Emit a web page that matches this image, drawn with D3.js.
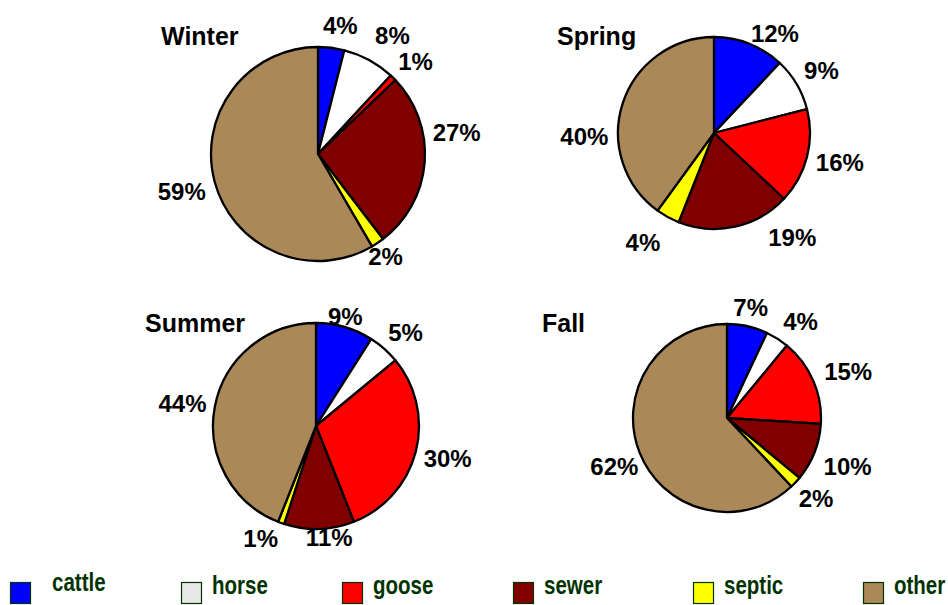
<!DOCTYPE html>
<html>
<head>
<meta charset="utf-8">
<script src="https://cdn.jsdelivr.net/npm/d3@7"></script>
<style>
  html, body { margin: 0; padding: 0; background: #fff; }
  svg { display: block; }
</style>
</head>
<body>
<svg id="chart" width="948" height="605"></svg>
<script>
// ---- Data ----
const categories = ["cattle", "horse", "goose", "sewer", "septic", "other"];
const seasons = ["Winter", "Spring", "Summer", "Fall"];
const winterValues = [4, 8, 1, 27, 2, 59];
const springValues = [12, 9, 16, 19, 4, 40];
const summerValues = [9, 5, 30, 11, 1, 44];
const fallValues   = [7, 4, 15, 10, 2, 62];

// ---- Styles / layout ----
const pieColors = ["#0000ff", "#ffffff", "#ff0000", "#800000", "#ffff00", "#ab8858"];
const legendColors = ["#0000ff", "#e8e8e8", "#ff0000", "#800000", "#ffff00", "#ab8858"];
const font = "'Liberation Sans', Arial, Helvetica, sans-serif";

const layouts = [
  { values: winterValues, cx: 318, cy: 154, r: 107, titleX: 161, titleY: 45,
    nudge: [[5,9],[8,4],[0,6],[0,-32],[-10,-13],[-2,1]] },
  { values: springValues, cx: 714, cy: 133, r: 96, titleX: 557, titleY: 45,
    nudge: [[15,16],[0,1],[5,-2],[51,-17],[-11,0],[-11,42]] },
  { values: summerValues, cx: 316, cy: 426, r: 103, titleX: 145, titleY: 332,
    nudge: [[-8,19],[1,7],[2,-1],[9,-22],[-10,-14],[-2,2]] },
  { values: fallValues, cx: 727, cy: 418, r: 94, titleX: 542, titleY: 332,
    nudge: [[-3,9],[8,7],[9,2],[7,3],[0,-3],[1,3]] }
];
const labelFactor = 1.3;

const svg = d3.select("#chart");
const color = d3.scaleOrdinal().domain(categories).range(pieColors);
const pie = d3.pie().sort(null).value(d => d.value);

layouts.forEach((L, si) => {
  const data = categories.map((c, i) => ({ cat: c, value: L.values[i], idx: i }));
  const arcs = pie(data);
  const arc = d3.arc().innerRadius(0).outerRadius(L.r);
  const g = svg.append("g").attr("transform", `translate(${L.cx},${L.cy})`);

  g.selectAll("path")
    .data(arcs)
    .join("path")
    .attr("d", arc)
    .attr("fill", d => color(d.data.cat))
    .attr("stroke", "#000")
    .attr("stroke-width", 2.3)
    .attr("stroke-linejoin", "round");

  const R = L.r * labelFactor;
  g.selectAll("text.pct")
    .data(arcs)
    .join("text")
    .attr("class", "pct")
    .attr("x", d => {
      const a = (d.startAngle + d.endAngle) / 2;
      return R * Math.sin(a) + L.nudge[d.data.idx][0];
    })
    .attr("y", d => {
      const a = (d.startAngle + d.endAngle) / 2;
      return -R * Math.cos(a) + L.nudge[d.data.idx][1];
    })
    .attr("dy", "0.36em")
    .attr("text-anchor", "middle")
    .attr("font-family", font)
    .attr("font-weight", "bold")
    .attr("font-size", 24)
    .attr("fill", "#000")
    .text(d => d.data.value + "%");

  svg.append("text")
    .attr("x", L.titleX)
    .attr("y", L.titleY)
    .attr("font-family", font)
    .attr("font-weight", "bold")
    .attr("font-size", 25)
    .attr("fill", "#000")
    .text(seasons[si]);
});

// ---- Legend ----
const legendX = [10, 181, 342, 513, 693, 863];
const lg = svg.append("g");
categories.forEach((c, i) => {
  lg.append("rect")
    .attr("x", legendX[i] + 0.5)
    .attr("y", 582.5)
    .attr("width", 20)
    .attr("height", 21)
    .attr("fill", legendColors[i])
    .attr("stroke", "#003300")
    .attr("stroke-width", 1.2);
  const tx = legendX[i] + (i === 0 ? 42 : 31);
  const ty = i === 0 ? 591 : 594;
  lg.append("text")
    .attr("transform", `translate(${tx},${ty}) scale(0.82,1)`)
    .attr("font-family", font)
    .attr("font-weight", "bold")
    .attr("font-size", 25)
    .attr("fill", "#003300")
    .text(c);
});
</script>
</body>
</html>
